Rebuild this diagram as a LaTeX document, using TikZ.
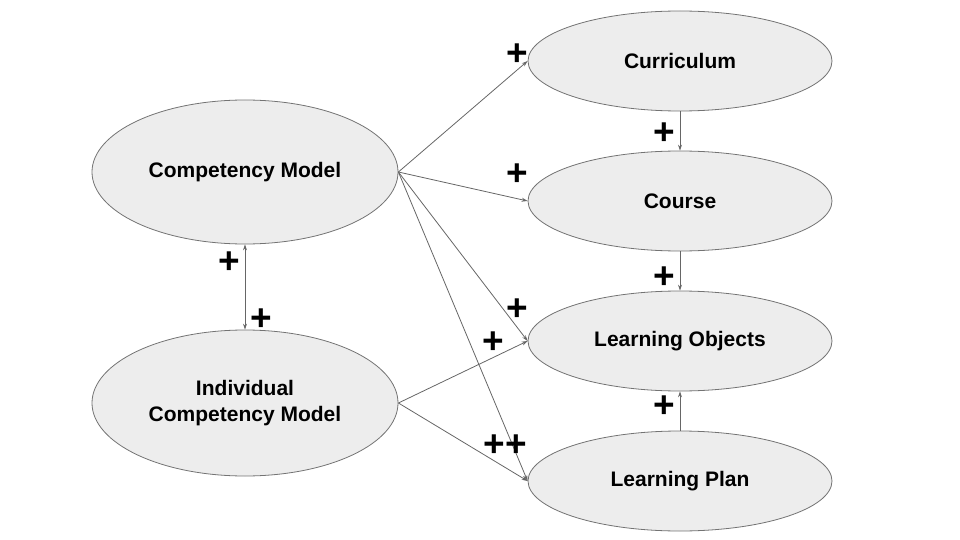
\documentclass[tikz,border=0pt]{standalone}
\usepackage{fontspec}
\setmainfont{Liberation Sans}
\usetikzlibrary{shapes.geometric,arrows.meta}
\begin{document}
\begin{tikzpicture}[x=1pt,y=-1pt,
  ell/.style={ellipse,draw=black!55,fill=black!7,line width=0.8pt,inner sep=0pt,align=center,font=\bfseries\fontsize{21}{26}\selectfont},
  big/.style={ell,minimum width=306pt,minimum height=144pt},
  small/.style={ell,minimum width=304pt,minimum height=100pt},
  conn/.style={draw=black!60,line width=0.8pt,-{Stealth[length=6pt,width=4pt]}},
  plus/.style={font=\bfseries\fontsize{37}{40}\selectfont,inner sep=0pt}]
\useasboundingbox (0,0) rectangle (960,540);
\node[big] (cm) at (245,172) {Competency Model};
\node[big,minimum height=146pt] (icm) at (245,403) {Individual\\Competency Model};
\node[small] (cur) at (680,61) {Curriculum};
\node[small] (crs) at (680,201) {Course};
\node[small] (lo) at (680,341) {Learning Objects};
\node[small] (lp) at (680,481) {Learning Plan};
\draw[conn] (cm.east) -- (cur.west);
\draw[conn] (cm.east) -- (crs.west);
\draw[conn] (cm.east) -- (lo.west);
\draw[conn] (cm.east) -- (lp.west);
\draw[conn] (icm.east) -- (lo.west);
\draw[conn] (icm.east) -- (lp.west);
\draw[conn,{Stealth[length=6pt,width=4pt]}-{Stealth[length=6pt,width=4pt]}] (cm.south) -- (icm.north);
\draw[conn] (cur.south) -- (crs.north);
\draw[conn] (crs.south) -- (lo.north);
\draw[conn] (lp.north) -- (lo.south);
\node[plus] (p1) at (517,55) {+};
\node[plus] (p2) at (517,175) {+};
\node[plus] (p3) at (229,263) {+};
\node[plus] (p4) at (261,320) {+};
\node[plus] (p5) at (664,134) {+};
\node[plus] (p6) at (664,278) {+};
\node[plus] (p7) at (517,310) {+};
\node[plus] (p8) at (493,343) {+};
\node[plus] (p9) at (505.5,446) {++};
\node[plus] (p10) at (664,407) {+};
\end{tikzpicture}
\end{document}
